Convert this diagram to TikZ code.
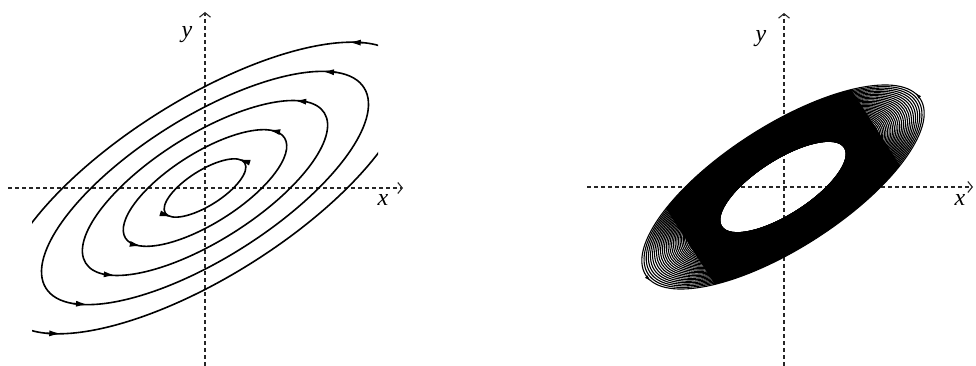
\documentclass[tikz,border=0pt]{standalone}
\usepackage{fontspec}
\setmainfont{Liberation Serif}
\usetikzlibrary{arrows.meta}
\begin{document}
\begin{tikzpicture}[x=1pt,y=1pt,
  axis/.style={dash pattern=on 4pt off 3pt, line width=1.1pt, black!85, -{Straight Barb[length=4.5pt,width=11pt]}},
  orbit/.style={line width=1.6pt},
  tipmark/.style={-{Latex[length=12pt,width=6pt]}, line width=1.6pt},
  ringline/.style={line width=1.1pt},
  ringtip/.style={-{Latex[length=6pt,width=3.5pt]}, line width=0.8pt},
  lbl/.style={font=\fontsize{24}{24}\selectfont\itshape}
]
\useasboundingbox (0,0) rectangle (976,366);
% ---------- left panel ----------
\coordinate (Lxs) at (8,178); \coordinate (Lxe) at (403,178);
\coordinate (Lys) at (205,0); \coordinate (Lye) at (205,354);
\draw[axis] (Lxs) -- (Lxe);
\draw[axis] (Lys) -- (Lye);
\node[lbl] (Ly) at (187,331) {y};
\node[lbl] (Lx) at (383,166) {x};
\begin{scope}[shift={(205,178)}, rotate=32.2]
  \foreach \k/\ang in {1/22,2/26,3/30,4/31} {
    \draw[orbit] (0,0) ellipse ({47*\k} and {17.65*\k});
    \draw[tipmark] ({47*\k*cos(\ang-8)},{17.65*\k*sin(\ang-8)}) -- ({47*\k*cos(\ang)},{17.65*\k*sin(\ang)});
    \draw[tipmark] ({47*\k*cos(\ang+172)},{17.65*\k*sin(\ang+172)}) -- ({47*\k*cos(\ang+180)},{17.65*\k*sin(\ang+180)});
  }
  \draw[tipmark] ({235*cos(26)},{88.25*sin(26)}) -- ({235*cos(32)},{88.25*sin(32)});
  \draw[tipmark] ({235*cos(206)},{88.25*sin(206)}) -- ({235*cos(212)},{88.25*sin(212)});
\end{scope}
\begin{scope}
  \clip (32,0) rectangle (378,366);
  \begin{scope}[shift={(205,178)}, rotate=32.2]
    \draw[orbit] (0,0) ellipse (235 and 88.25);
  \end{scope}
\end{scope}
% ---------- right panel ----------
\coordinate (Rxs) at (587,179); \coordinate (Rxe) at (973,179);
\coordinate (Rys) at (784,0); \coordinate (Rye) at (784,353);
\draw[axis] (Rxs) -- (Rxe);
\draw[axis] (Rys) -- (Rye);
\node[lbl] (Ry) at (761,327) {y};
\node[lbl] (Rx) at (960,166) {x};
\begin{scope}[shift={(783,179)}, rotate=32.7]
  \begin{scope}
    \clip (-110,-80) rectangle (110,80);
    \fill[black, even odd rule] (0,0) ellipse ({162.3*1.005} and {60.8*1.005})
                                (0,0) ellipse ({162.3*0.45} and {60.8*0.45});
  \end{scope}
  \foreach \i in {0,...,70} {
    \pgfmathsetmacro\sc{0.45+0.555*(\i/70)^2}
    \draw[ringline] (0,0) ellipse ({162.3*\sc} and {60.8*\sc});
  }
  \draw[ringtip] ({163.5*cos(2)},{61.3*sin(2)}) -- ({163.5*cos(7)},{61.3*sin(7)});
  \draw[ringtip] ({163.5*cos(182)},{61.3*sin(182)}) -- ({163.5*cos(187)},{61.3*sin(187)});
\end{scope}
\end{tikzpicture}
\end{document}
